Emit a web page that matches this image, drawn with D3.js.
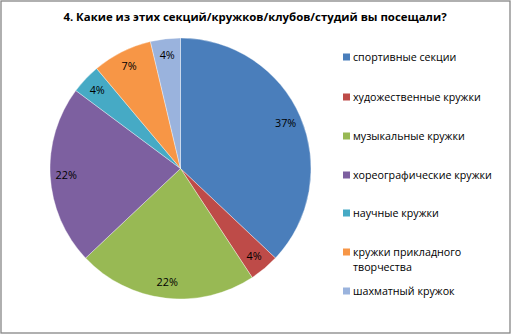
<!DOCTYPE html>
<html><head><meta charset="utf-8">
<script src="https://cdn.jsdelivr.net/npm/d3@7"></script>
<style>html,body{margin:0;padding:0;background:#fff;}svg{display:block;}</style>
</head><body>
<svg id="c" width="512" height="335"></svg>
<script>
const title = "4. Какие из этих секций/кружков/клубов/студий вы посещали?";
const categories = ["спортивные секции","художественные кружки","музыкальные кружки","хореографические кружки","научные кружки","кружки прикладного творчества","шахматный кружок"];
const legendLines = [["спортивные секции"],["художественные кружки"],["музыкальные кружки"],["хореографические кружки"],["научные кружки"],["кружки прикладного","творчества"],["шахматный кружок"]];
const values = [37.0, 3.7, 22.2, 22.2, 3.7, 7.4, 3.7];
const labels = ["37%","4%","22%","22%","4%","7%","4%"];
const colors = ["#4a7ebb","#be4b48","#98b954","#7d60a0","#46aac5","#f79646","#9ab3dd"];

const svg = d3.select("#c");
const font = "'Open Sans', 'Noto Sans', sans-serif";
svg.append("rect").attr("x",1).attr("y",1).attr("width",509).attr("height",332)
  .attr("fill","#fff").attr("stroke","#868686").attr("stroke-width",1.3);

svg.append("text").attr("x",255).attr("y",21).attr("text-anchor","middle")
  .attr("font-family",font).attr("font-weight","bold").attr("font-size",11.4).attr("fill","#000")
  .text(title);

const cx = 180.5, cy = 168.5, r = 130.5;
const pie = d3.pie().sort(null).value(d=>d)(values);
const arc = d3.arc().innerRadius(0).outerRadius(r);
const labelArc = d3.arc().innerRadius(r-16).outerRadius(r-16);
const g = svg.append("g").attr("transform",`translate(${cx},${cy})`);
g.selectAll("path").data(pie).join("path")
  .attr("d",arc).attr("fill",(d,i)=>colors[i])
  .attr("stroke","#ffffff").attr("stroke-width",0.6).attr("stroke-opacity",0.6);
g.selectAll("text").data(pie).join("text")
  .attr("transform",d=>`translate(${labelArc.centroid(d)})`)
  .attr("text-anchor","middle").attr("dy","0.35em")
  .attr("font-family",font).attr("font-size",10.8).attr("fill","#000")
  .text((d,i)=>labels[i]);

const legendY = [57, 97, 136, 175, 213, 252, 291];
const lg = svg.append("g");
categories.forEach((c,i)=>{
  const y = legendY[i];
  lg.append("rect").attr("x",343).attr("y",y-3.5).attr("width",7).attr("height",7).attr("fill",colors[i]);
  legendLines[i].forEach((t,j)=>{
    lg.append("text").attr("x",353).attr("y",y+j*15).attr("dy","0.35em")
      .attr("font-family",font).attr("font-size",10.7).attr("fill","#000").text(t);
  });
});
</script>
</body></html>
